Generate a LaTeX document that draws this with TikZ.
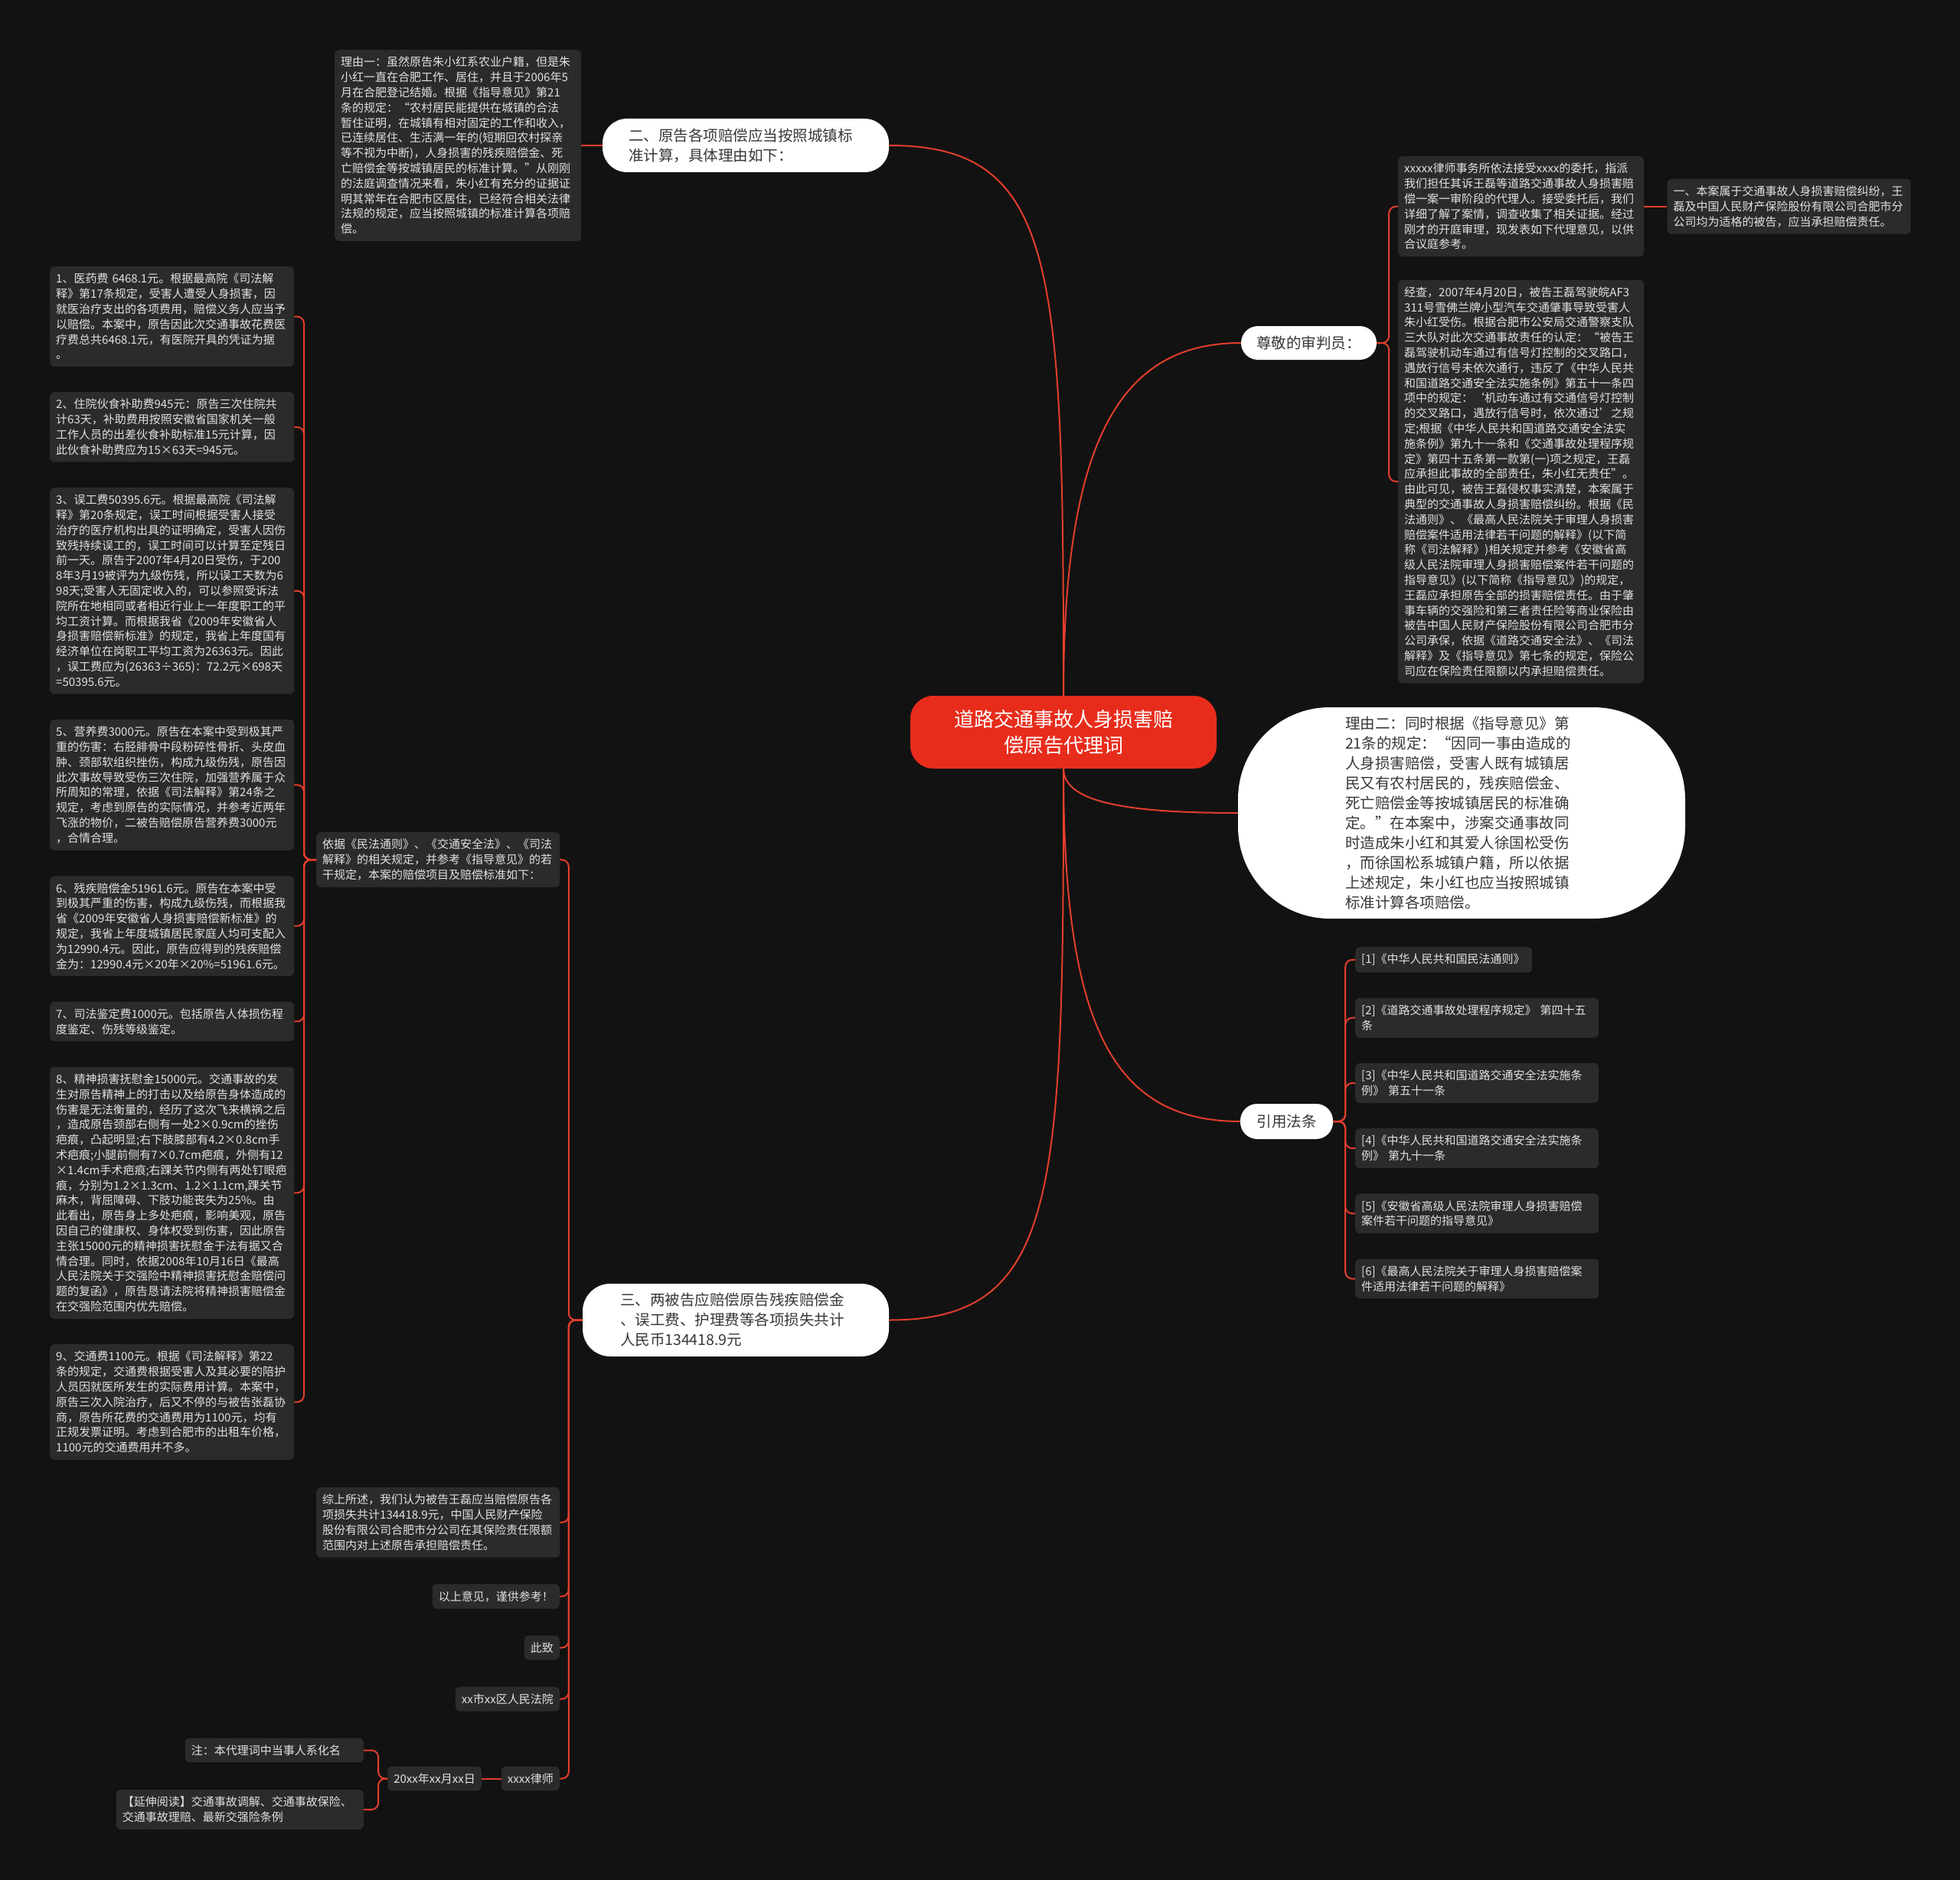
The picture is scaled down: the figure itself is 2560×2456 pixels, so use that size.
\documentclass[tikz,border=0pt]{standalone}
\usepackage{fontspec}
\setmainfont{Noto Sans CJK SC}
\usetikzlibrary{positioning}
\definecolor{darkBg}{RGB}{18,18,18}
\definecolor{leafFill}{RGB}{43,43,43}
\definecolor{leafInk}{RGB}{226,226,226}
\definecolor{pillInk}{RGB}{55,55,55}
\definecolor{branchRed}{RGB}{226,62,44}
\definecolor{rootRed}{RGB}{232,44,28}
\tikzset{
  leaf/.style={fill=leafFill, rounded corners=6pt, text=leafInk, align=left, inner xsep=8pt, inner ysep=9pt, text width=303pt, font=\fontsize{15}{19.8}\selectfont},
  tag/.style={fill=leafFill, rounded corners=6pt, text=leafInk, inner xsep=8pt, inner ysep=9pt, anchor=east, font=\fontsize{15}{19.8}\selectfont},
  pill/.style={fill=white, text=pillInk, align=left, rounded corners=22pt, font=\fontsize{19.5}{26}\selectfont},
  rootbox/.style={fill=rootRed, text=white, align=center, rounded corners=30pt, minimum width=400pt, minimum height=95pt, font=\fontsize{26}{34}\selectfont},
  link/.style={draw=branchRed, line width=2pt},
  elbow/.style={link, rounded corners=9pt}
}

\begin{document}
\begin{tikzpicture}[x=1pt, y=-1pt]
  \fill[darkBg] (0,0) rectangle (2560,2456);

  % centre
  \node[rootbox] (root) at (1389,956.5) {道路交通事故人身损害赔\\偿原告代理词};

  % first level
  \node[pill, text width=306pt, minimum width=374pt, minimum height=70pt, rounded corners=32pt] (two) at (974,190) {二、原告各项赔偿应当按照城镇标\\准计算，具体理由如下：};
  \node[pill, minimum width=177pt, minimum height=44pt] (judge) at (1709.5,448) {尊敬的审判员：};
  \node[pill, text width=304pt, minimum width=584pt, minimum height=276pt, rounded corners=120pt] (reason2) at (1909,1062) {理由二：同时根据《指导意见》第\\21条的规定：“因同一事由造成的\\人身损害赔偿，受害人既有城镇居\\民又有农村居民的，残疾赔偿金、\\死亡赔偿金等按城镇居民的标准确\\定。”在本案中，涉案交通事故同\\时造成朱小红和其爱人徐国松受伤\\，而徐国松系城镇户籍，所以依据\\上述规定，朱小红也应当按照城镇\\标准计算各项赔偿。};
  \node[pill, minimum width=121pt, minimum height=46pt] (laws) at (1680.5,1465) {引用法条};
  \node[pill, text width=302pt, minimum width=400pt, minimum height=95pt, rounded corners=36pt] (three) at (961,1724.5) {三、两被告应赔偿原告残疾赔偿金\\、误工费、护理费等各项损失共计\\人民币134418.9元};

  % reason one
  \node[leaf, text width=306pt, anchor=north west] (reason1) at (437,65) {理由一：虽然原告朱小红系农业户籍，但是朱\\小红一直在合肥工作、居住，并且于2006年5\\月在合肥登记结婚。根据《指导意见》第21\\条的规定：“农村居民能提供在城镇的合法\\暂住证明，在城镇有相对固定的工作和收入，\\已连续居住、生活满一年的(短期回农村探亲\\等不视为中断)，人身损害的残疾赔偿金、死\\亡赔偿金等按城镇居民的标准计算。”从刚刚\\的法庭调查情况来看，朱小红有充分的证据证\\明其常年在合肥市区居住，已经符合相关法律\\法规的规定，应当按照城镇的标准计算各项赔\\偿。};

  % judge side
  \node[leaf, text width=305pt, anchor=north west] (entrust) at (1826,204) {xxxxx律师事务所依法接受xxxx的委托，指派\\我们担任其诉王磊等道路交通事故人身损害赔\\偿一案一审阶段的代理人。接受委托后，我们\\详细了解了案情，调查收集了相关证据。经过\\刚才的开庭审理，现发表如下代理意见，以供\\合议庭参考。};
  \node[leaf, text width=302pt, right=30pt of entrust] (defend) {一、本案属于交通事故人身损害赔偿纠纷，王\\磊及中国人民财产保险股份有限公司合肥市分\\公司均为适格的被告，应当承担赔偿责任。};
  \node[leaf, text width=305pt, below=30pt of entrust] (facts) {经查，2007年4月20日，被告王磊驾驶皖AF3\\311号雪佛兰牌小型汽车交通肇事导致受害人\\朱小红受伤。根据合肥市公安局交通警察支队\\三大队对此次交通事故责任的认定：“被告王\\磊驾驶机动车通过有信号灯控制的交叉路口，\\遇放行信号未依次通行，违反了《中华人民共\\和国道路交通安全法实施条例》第五十一条四\\项中的规定：‘机动车通过有交通信号灯控制\\的交叉路口，遇放行信号时，依次通过’之规\\定;根据《中华人民共和国道路交通安全法实\\施条例》第九十一条和《交通事故处理程序规\\定》第四十五条第一款第(一)项之规定，王磊\\应承担此事故的全部责任，朱小红无责任”。\\由此可见，被告王磊侵权事实清楚，本案属于\\典型的交通事故人身损害赔偿纠纷。根据《民\\法通则》、《最高人民法院关于审理人身损害\\赔偿案件适用法律若干问题的解释》(以下简\\称《司法解释》)相关规定并参考《安徽省高\\级人民法院审理人身损害赔偿案件若干问题的\\指导意见》(以下简称《指导意见》)的规定，\\王磊应承担原告全部的损害赔偿责任。由于肇\\事车辆的交强险和第三者责任险等商业保险由\\被告中国人民财产保险股份有限公司合肥市分\\公司承保，依据《道路交通安全法》、《司法\\解释》及《指导意见》第七条的规定，保险公\\司应在保险责任限额以内承担赔偿责任。};

  % cited laws
  \node[leaf, text width=215pt, anchor=north west] (law1) at (1770,1237) {[1]《中华人民共和国民法通则》};
  \node[leaf, text width=302pt, below=33pt of law1.south west, anchor=north west] (law2) {[2]《道路交通事故处理程序规定》 第四十五\\条};
  \node[leaf, text width=302pt, below=33pt of law2] (law3) {[3]《中华人民共和国道路交通安全法实施条\\例》 第五十一条};
  \node[leaf, text width=302pt, below=33pt of law3] (law4) {[4]《中华人民共和国道路交通安全法实施条\\例》 第九十一条};
  \node[leaf, text width=302pt, below=33pt of law4] (law5) {[5]《安徽省高级人民法院审理人身损害赔偿\\案件若干问题的指导意见》};
  \node[leaf, text width=302pt, below=33pt of law5] (law6) {[6]《最高人民法院关于审理人身损害赔偿案\\件适用法律若干问题的解释》};

  % claim items
  \node[leaf, text width=302pt, anchor=north west] (basis) at (413,1087) {依据《民法通则》、《交通安全法》、《司法\\解释》的相关规定，并参考《指导意见》的若\\干规定，本案的赔偿项目及赔偿标准如下：};
  \node[leaf, anchor=north west] (item1) at (65,348) {1、医药费 6468.1元。根据最高院《司法解\\释》第17条规定，受害人遭受人身损害，因\\就医治疗支出的各项费用，赔偿义务人应当予\\以赔偿。本案中，原告因此次交通事故花费医\\疗费总共6468.1元，有医院开具的凭证为据\\。};
  \node[leaf, below=33pt of item1] (item2) {2、住院伙食补助费945元：原告三次住院共\\计63天，补助费用按照安徽省国家机关一般\\工作人员的出差伙食补助标准15元计算，因\\此伙食补助费应为15×63天=945元。};
  \node[leaf, below=33pt of item2] (item3) {3、误工费50395.6元。根据最高院《司法解\\释》第20条规定，误工时间根据受害人接受\\治疗的医疗机构出具的证明确定，受害人因伤\\致残持续误工的，误工时间可以计算至定残日\\前一天。原告于2007年4月20日受伤，于200\\8年3月19被评为九级伤残，所以误工天数为6\\98天;受害人无固定收入的，可以参照受诉法\\院所在地相同或者相近行业上一年度职工的平\\均工资计算。而根据我省《2009年安徽省人\\身损害赔偿新标准》的规定，我省上年度国有\\经济单位在岗职工平均工资为26363元。因此\\，误工费应为(26363÷365)：72.2元×698天\\=50395.6元。};
  \node[leaf, below=33pt of item3] (item5) {5、营养费3000元。原告在本案中受到极其严\\重的伤害：右胫腓骨中段粉碎性骨折、头皮血\\肿、颈部软组织挫伤，构成九级伤残，原告因\\此次事故导致受伤三次住院，加强营养属于众\\所周知的常理，依据《司法解释》第24条之\\规定，考虑到原告的实际情况，并参考近两年\\飞涨的物价，二被告赔偿原告营养费3000元\\，合情合理。};
  \node[leaf, below=33pt of item5] (item6) {6、残疾赔偿金51961.6元。原告在本案中受\\到极其严重的伤害，构成九级伤残，而根据我\\省《2009年安徽省人身损害赔偿新标准》的\\规定，我省上年度城镇居民家庭人均可支配入\\为12990.4元。因此，原告应得到的残疾赔偿\\金为：12990.4元×20年×20\%=51961.6元。};
  \node[leaf, below=33pt of item6] (item7) {7、司法鉴定费1000元。包括原告人体损伤程\\度鉴定、伤残等级鉴定。};
  \node[leaf, below=33pt of item7] (item8) {8、精神损害抚慰金15000元。交通事故的发\\生对原告精神上的打击以及给原告身体造成的\\伤害是无法衡量的，经历了这次飞来横祸之后\\，造成原告颈部右侧有一处2×0.9cm的挫伤\\疤痕，凸起明显;右下肢膝部有4.2×0.8cm手\\术疤痕;小腿前侧有7×0.7cm疤痕，外侧有12\\×1.4cm手术疤痕;右踝关节内侧有两处钉眼疤\\痕，分别为1.2×1.3cm、1.2×1.1cm,踝关节\\麻木，背屈障碍、下肢功能丧失为25\%。由\\此看出，原告身上多处疤痕，影响美观，原告\\因自己的健康权、身体权受到伤害，因此原告\\主张15000元的精神损害抚慰金于法有据又合\\情合理。同时，依据2008年10月16日《最高\\人民法院关于交强险中精神损害抚慰金赔偿问\\题的复函》，原告恳请法院将精神损害赔偿金\\在交强险范围内优先赔偿。};
  \node[leaf, below=33pt of item8] (item9) {9、交通费1100元。根据《司法解释》第22\\条的规定，交通费根据受害人及其必要的陪护\\人员因就医所发生的实际费用计算。本案中，\\原告三次入院治疗，后又不停的与被告张磊协\\商，原告所花费的交通费用为1100元，均有\\正规发票证明。考虑到合肥市的出租车价格，\\1100元的交通费用并不多。};

  % closing
  \node[leaf, text width=302pt, anchor=north west] (summary) at (413,1943) {综上所述，我们认为被告王磊应当赔偿原告各\\项损失共计134418.9元，中国人民财产保险\\股份有限公司合肥市分公司在其保险责任限额\\范围内对上述原告承担赔偿责任。};
  \node[tag] (regards) at (731,2085.5) {以上意见，谨供参考！};
  \node[tag] (salute) at (731,2152.5) {此致};
  \node[tag] (court) at (731,2219.5) {xx市xx区人民法院};
  \node[tag] (lawyer) at (731,2323.5) {xxxx律师};
  \node[tag] (date) at (629,2323.5) {20xx年xx月xx日};
  \node[tag, text width=217pt, align=left] (alias) at (475,2286.5) {注：本代理词中当事人系化名};
  \node[leaf, text width=307pt, anchor=east] (further) at (475,2364) {【延伸阅读】交通事故调解、交通事故保险、\\交通事故理赔、最新交强险条例};

  % connectors
  \draw[link] (root.north) .. controls +(0,-560) and +(220,0) .. (two.east);
  \draw[link] (root.north) .. controls +(0,-330) and +(-160,0) .. (judge.west);
  \draw[link] (root.south) .. controls +(0,45) and +(-140,0) .. (reason2.west);
  \draw[link] (root.south) .. controls +(0,330) and +(-170,0) .. (laws.west);
  \draw[link] (root.south) .. controls +(0,560) and +(220,0) .. (three.east);

  \draw[link] (two.west) -- (reason1.east);
  \foreach \n in {entrust,facts}
    \draw[elbow] (judge.east) -- ++(16,0) |- (\n.west);
  \draw[link] (entrust.east) -- (defend.west);
  \foreach \n in {law1,law2,law3,law4,law5,law6}
    \draw[elbow] (laws.east) -- ++(16,0) |- (\n.west);
  \foreach \n in {basis,summary,regards,salute,court,lawyer}
    \draw[elbow] (three.west) -- ++(-18,0) |- (\n.east);
  \foreach \n in {item1,item2,item3,item5,item6,item7,item8,item9}
    \draw[elbow] (basis.west) -- ++(-16,0) |- (\n.east);
  \draw[link] (lawyer.west) -- (date.east);
  \foreach \n in {alias,further}
    \draw[elbow] (date.west) -- ++(-12,0) |- (\n.east);
\end{tikzpicture}
\end{document}
